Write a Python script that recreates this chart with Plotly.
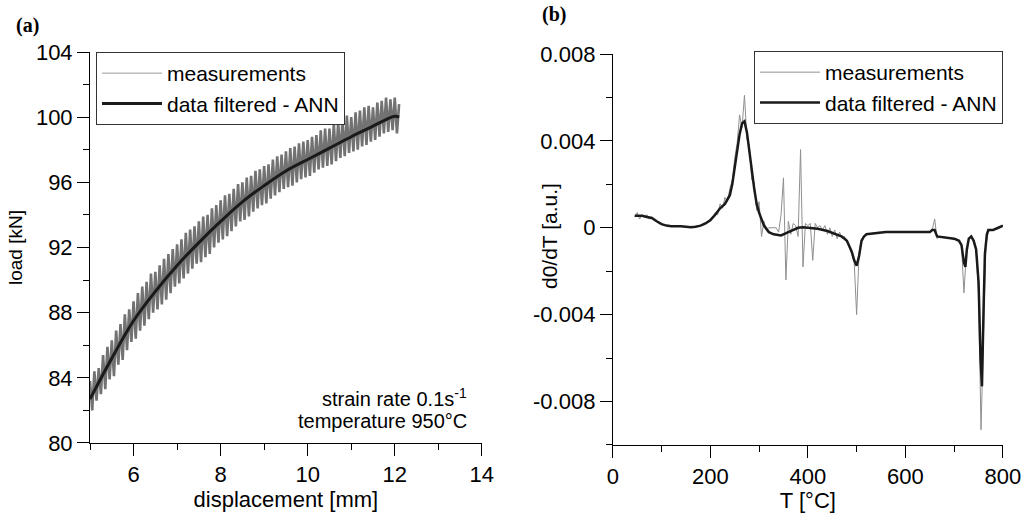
import numpy as np
import plotly.graph_objects as go

# ---- panel (a): load vs displacement ----
disp_ann = [5.0, 5.5, 6.0, 6.5, 7.0, 7.5, 8.0, 8.5, 9.0, 9.5, 10.0, 10.5, 11.0, 11.5, 11.8, 12.0, 12.1]
load_ann = [82.7, 85.2, 87.5, 89.3, 90.9, 92.3, 93.6, 94.8, 95.8, 96.7, 97.4, 98.1, 98.8, 99.45, 99.85, 100.05, 100.0]

# measured load, sampled every 0.05 mm from 5.0 to 12.1
load_meas = [
    83.8, 82.0, 84.4, 82.6, 84.6, 83.0, 85.4, 83.3, 85.9, 83.9,
    86.3, 84.1, 86.9, 84.8, 87.3, 85.1, 87.9, 85.7, 88.2, 86.2,
    88.7, 86.4, 89.2, 86.9, 89.6, 87.2, 89.9, 87.6, 90.4, 88.0,
    90.5, 88.2, 90.9, 88.5, 91.3, 88.8, 91.6, 89.2, 91.9, 89.6,
    92.2, 89.8, 92.5, 90.1, 92.9, 90.4, 93.1, 90.7, 93.3, 91.0,
    93.6, 91.1, 93.9, 91.4, 94.0, 91.6, 94.4, 92.0, 94.6, 92.3,
    94.9, 92.5, 95.2, 92.7, 95.3, 93.0, 95.6, 93.3, 95.9, 93.6,
    96.0, 93.7, 96.3, 93.9, 96.4, 94.2, 96.7, 94.4, 96.8, 94.6,
    97.0, 94.7, 97.1, 95.0, 97.4, 95.2, 97.6, 95.4, 97.7, 95.6,
    97.9, 95.7, 98.1, 95.8, 98.2, 96.0, 98.4, 96.2, 98.5, 96.3,
    98.6, 96.4, 98.8, 96.6, 98.9, 96.8, 99.2, 96.9, 99.3, 97.0,
    99.3, 97.1, 99.6, 97.3, 99.7, 97.5, 99.9, 97.6, 100.1, 97.8,
    100.0, 97.9, 100.3, 98.0, 100.4, 98.2, 100.6, 98.3, 100.7, 98.5,
    100.6, 98.6, 100.9, 98.8, 101.0, 99.0, 101.2, 99.1, 101.1, 99.2,
    101.2, 99.0, 100.8,
]
disp_meas = np.linspace(5.0, 12.1, len(load_meas))

# ---- panel (b): d0/dT vs temperature ----
temp_ann = [45, 60, 70, 80, 90, 100, 110, 120, 140, 160, 170, 180, 190, 200, 210, 220, 230, 240,
            245, 250, 255, 260, 265, 270, 275, 280, 285, 290, 295, 300, 310, 320, 330, 345, 360,
            370, 380, 390, 400, 420, 440, 460, 470, 480, 490, 495, 500, 505, 510, 515, 520, 560,
            600, 650, 655, 660, 665, 680, 700, 710, 715, 720, 723, 726, 730, 735, 740, 745, 750,
            754, 757, 760, 763, 767, 770, 780, 790, 800]
dtdt_ann = [0.00055, 0.00055, 0.0005, 0.00045, 0.0003, 0.00017, 0.0001, 0.00007, 0.00007, 0.00003,
            0.00005, 0.0001, 0.0002, 0.00035, 0.0006, 0.0009, 0.0011, 0.0015,
            0.002, 0.0028, 0.0036, 0.0043, 0.0048, 0.0049, 0.0044, 0.0035, 0.0026, 0.0018, 0.0011,
            0.0007, 0.0001, -0.0002, -0.0003, -0.00035, -0.0002,
            -0.0001, 0.0, 0.00002, 0.0, -0.00005, -0.00015, -0.0003, -0.0004, -0.0006, -0.0011,
            -0.0015, -0.00175, -0.0013, -0.0006, -0.0004, -0.0003, -0.0002,
            -0.0002, -0.0002, -0.0001, -0.0001, -0.0004, -0.00045, -0.0005, -0.0006, -0.0008,
            -0.0016, -0.0018, -0.001, -0.0005, -0.0004, -0.0006, -0.001, -0.0025,
            -0.006, -0.0073, -0.004, -0.0012, -0.0003, -0.0001, -0.0001, 0.0, 0.0001]

# measured d0/dT, sampled every 5 C from 45 to 800
dtdt_meas = [
    0.0005, 0.0007, 0.0004, 0.0006, 0.0005, 0.0006, 0.0004, 0.0005, 0.0004, 0.0003,
    0.0002, 0.00018, 0.00012, 0.0001, 0.00008, 0.00009, 0.00006, 0.0001, 0.00007, 0.00008,
    0.00004, 0.00006, 0.00002, 0.00005, 0.00003, 0.00008, 0.00006, 0.00012, 0.00015, 0.00022,
    0.0003, 0.0004, 0.00048, 0.0007, 0.0006, 0.0011, 0.0009, 0.0014, 0.0012, 0.0018,
    0.0022, 0.0032, 0.0039, 0.0052, 0.0046, 0.0061, 0.0041, 0.0038, 0.0022, 0.0021,
    0.0008, 0.0012, -0.0004, 0.0003, -0.0001, 0.0, 0.0, 0.0, 0.0, -0.0002,
    0.0006, 0.0023, -0.0024, 0.0003, -0.0003, 0.0002, 0.0001, -0.0004, 0.0036, -0.0018,
    0.0002, 0.0001, 0.0002, -0.0015, 0.0002, 0.0, 0.0001, -0.0001, 0.0001, -0.0003,
    0.0, -0.0004, -0.0001, -0.0005, -0.0002, -0.0005, -0.0004, -0.0006, -0.0009, -0.0012,
    -0.0016, -0.004, -0.0012, -0.0005, -0.0004, -0.0003, -0.00028, -0.00025, -0.00025, -0.00024,
    -0.0002, -0.00022, -0.0002, -0.00021, -0.0002, -0.0002, -0.00019, -0.0002, -0.0002, -0.00018,
    -0.0002, -0.00019, -0.0002, -0.0002, -0.00021, -0.0002, -0.00019, -0.0002, -0.00022, -0.00021,
    -0.0002, -0.00018, -0.0001, 0.0004, -0.0005, -0.0004, -0.00045, -0.0004, -0.0005, -0.00048,
    -0.0005, -0.00052, -0.0005, -0.0006, -0.0008, -0.003, -0.0012, -0.0005, -0.0004, -0.0006,
    -0.0011, -0.003, -0.0093, -0.0045, -0.0008, -0.0002, -0.0001, -0.0001, -0.00008, -0.00005,
    0.0, 0.0001,
]
temp_meas = np.linspace(45, 800, len(dtdt_meas))

load_ticks = [80, 84, 88, 92, 96, 100, 104]
disp_ticks = [6, 8, 10, 12, 14]
dtdt_ticks = [-0.008, -0.004, 0, 0.004, 0.008]
dtdt_labels = ["-0.008", "-0.004", "0", "0.004", "0.008"]
temp_ticks = [0, 200, 400, 600, 800]

FONT = "Liberation Sans, Arial, sans-serif"
MEAS_LEGEND = dict(color="#9a9a9a", width=1)

fig = go.Figure()
# dense measured band; its legend entry is drawn thin like in the original
fig.add_trace(go.Scatter(x=disp_meas, y=load_meas, mode="lines", name="measurements", showlegend=False,
                         line=dict(color="#727272", width=2.6), xaxis="x", yaxis="y"))
fig.add_trace(go.Scatter(x=[None], y=[None], mode="lines", name="measurements",
                         line=MEAS_LEGEND, xaxis="x", yaxis="y", legend="legend"))
fig.add_trace(go.Scatter(x=disp_ann, y=load_ann, mode="lines", name="data filtered - ANN",
                         line=dict(color="#1a1a1a", width=3, shape="spline"),
                         xaxis="x", yaxis="y", legend="legend"))
fig.add_trace(go.Scatter(x=temp_meas, y=dtdt_meas, mode="lines", name="measurements",
                         line=dict(color="#8f8f8f", width=1), xaxis="x2", yaxis="y2", legend="legend2"))
fig.add_trace(go.Scatter(x=temp_ann, y=dtdt_ann, mode="lines", name="data filtered - ANN",
                         line=dict(color="#1a1a1a", width=2.5), xaxis="x2", yaxis="y2", legend="legend2"))


def ax(**kw):
    d = dict(showline=True, linecolor="black", linewidth=1, ticks="outside", ticklen=12,
             tickwidth=1, tickcolor="black", showgrid=False, zeroline=False, mirror=False,
             tickfont=dict(size=22, color="black"), automargin=False)
    d.update(kw)
    return d


def minor(dt, t0):
    return dict(ticks="outside", ticklen=6, tickwidth=1, tickcolor="black", dtick=dt, tick0=t0, showgrid=False)


legend_style = dict(xanchor="left", yanchor="top", bgcolor="white", bordercolor="#333",
                    borderwidth=1, font=dict(size=21, color="black"), itemwidth=60,
                    tracegroupgap=0)

fig.update_layout(
    width=1023, height=513,
    margin=dict(l=0, r=0, t=0, b=0),
    paper_bgcolor="white", plot_bgcolor="white",
    font=dict(family=FONT, color="black"),
    xaxis=ax(domain=[0.088, 0.471], range=[5, 14], tickvals=disp_ticks, minor=minor(1, 5),
             anchor="y", title=dict(text="displacement [mm]", font=dict(size=22), standoff=2)),
    yaxis=ax(domain=[0.1365, 0.8986], range=[80, 104], tickvals=load_ticks, minor=minor(2, 80),
             anchor="x", title=dict(text="load [kN]", font=dict(size=19), standoff=8)),
    xaxis2=ax(domain=[0.599, 0.9804], range=[0, 800], tickvals=temp_ticks, minor=minor(100, 0),
              anchor="y2", title=dict(text="T [°C]", font=dict(size=22), standoff=3)),
    yaxis2=ax(domain=[0.1326, 0.8947], range=[-0.010, 0.008], tickvals=dtdt_ticks, ticktext=dtdt_labels,
              minor=minor(0.002, 0), anchor="x2"),
    legend=dict(x=96 / 1023, y=1 - 52 / 513, **legend_style),
    legend2=dict(x=754 / 1023, y=1 - 51 / 513, **legend_style),
    annotations=[
        dict(text="<b>(a)</b>", x=14 / 1023, y=1 - 25 / 513, xref="paper", yref="paper",
             xanchor="left", yanchor="middle", showarrow=False,
             font=dict(family="Liberation Serif, Times New Roman, serif", size=20)),
        dict(text="<b>(b)</b>", x=540 / 1023, y=1 - 15 / 513, xref="paper", yref="paper",
             xanchor="left", yanchor="middle", showarrow=False,
             font=dict(family="Liberation Serif, Times New Roman, serif", size=20)),
        # y title of panel (b) sits close to the axis, between the tick labels
        dict(text="d0/dT [a.u.]", x=549 / 1023, y=1 - 236 / 513, xref="paper", yref="paper",
             xanchor="center", yanchor="middle", textangle=-90, showarrow=False, font=dict(size=21)),
        dict(text="strain rate 0.1s<sup>-1</sup>", x=469 / 1023, y=1 - 397 / 513, xref="paper",
             yref="paper", xanchor="right", yanchor="middle", showarrow=False, font=dict(size=20)),
        dict(text="temperature 950°C", x=469 / 1023, y=1 - 421 / 513, xref="paper",
             yref="paper", xanchor="right", yanchor="middle", showarrow=False, font=dict(size=20)),
    ],
)

# the page body has a default 8px margin; drop it so the figure fills the window
fig.write_html("out.html", config={"displayModeBar": False},
               post_script="document.body.style.margin='0';")
